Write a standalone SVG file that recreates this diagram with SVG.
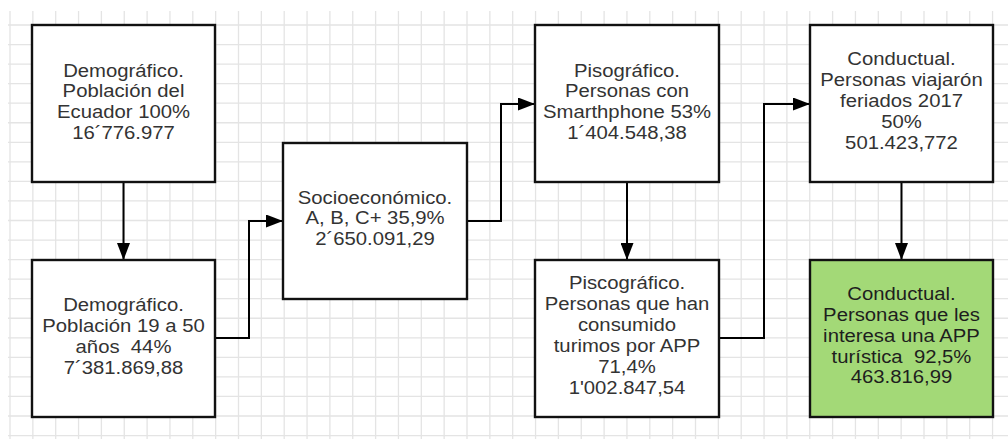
<svg xmlns="http://www.w3.org/2000/svg" width="1008" height="439" viewBox="0 0 1008 439">
  <style>
    .grid { fill: none; stroke: #e4e4e4; stroke-width: 1.3; }
    .box { fill: #ffffff; stroke: #111111; stroke-width: 2.4; }
    .box.green { fill: #a3d977; }
    .lbl { font-family: "Liberation Sans", Arial, sans-serif; font-size: 17.5px; fill: #333333; text-anchor: middle; }
    .lbl.dark { fill: #1e1e1e; }
    .conn { fill: none; stroke: #000000; stroke-width: 2; marker-end: url(#arrow); }
  </style>
  <defs>
    <marker id="arrow" markerUnits="userSpaceOnUse" markerWidth="17" markerHeight="13" viewBox="0 0 17 13" refX="17" refY="6.5" orient="auto">
      <path d="M0 0 L17 6.5 L0 13 Z" fill="#000000"/>
    </marker>
  </defs>

  <rect width="1008" height="439" fill="#ffffff"/>

  <!-- background grid -->
  <path class="grid" d="M10 11V439M32.85 11V439M55.7 11V439M78.55 11V439M101.4 11V439M124.25 11V439M147.1 11V439M169.95 11V439M192.8 11V439M215.65 11V439M238.5 11V439M261.35 11V439M284.2 11V439M307.05 11V439M329.9 11V439M352.75 11V439M375.6 11V439M398.45 11V439M421.3 11V439M444.15 11V439M467 11V439M489.85 11V439M512.7 11V439M535.55 11V439M558.4 11V439M581.25 11V439M604.1 11V439M626.95 11V439M649.8 11V439M672.65 11V439M695.5 11V439M718.35 11V439M741.2 11V439M764.05 11V439M786.9 11V439M809.75 11V439M832.6 11V439M855.45 11V439M878.3 11V439M901.15 11V439M924 11V439M946.85 11V439M969.7 11V439M992.55 11V439"/>
  <path class="grid" d="M8 25H1008M8 44.55H1008M8 64.1H1008M8 83.65H1008M8 103.2H1008M8 122.75H1008M8 142.3H1008M8 161.85H1008M8 181.4H1008M8 200.95H1008M8 220.5H1008M8 240.05H1008M8 259.6H1008M8 279.15H1008M8 298.7H1008M8 318.25H1008M8 337.8H1008M8 357.35H1008M8 376.9H1008M8 396.45H1008M8 416H1008M8 435.55H1008"/>

  <!-- connectors -->
  <g id="connectors">
    <path class="conn" d="M123.5 182V260"/>
    <path class="conn" d="M215 338H249V221H283"/>
    <path class="conn" d="M467 221H501V104H535"/>
    <path class="conn" d="M627 182V260"/>
    <path class="conn" d="M719 338H764V104H810"/>
    <path class="conn" d="M901.5 182V260"/>
  </g>

  <!-- labels: tspans are kept adjacent so no stray spaces shift the centred lines -->
  <g id="demografico-ecuador">
    <rect class="box" x="32" y="25" width="183" height="157"/>
    <text class="lbl" transform="translate(123.5 0) scale(1.16 1)"><tspan x="0" y="77">Demográfico.</tspan><tspan
      x="0" y="97.5">Población del</tspan><tspan
      x="0" y="118.5">Ecuador 100%</tspan><tspan
      x="0" y="139.5">16´776.977</tspan></text>
  </g>

  <g id="demografico-19-50">
    <rect class="box" x="32" y="260" width="183" height="157"/>
    <text class="lbl" transform="translate(123.5 0) scale(1.16 1)"><tspan x="0" y="311">Demográfico.</tspan><tspan
      x="0" y="332">Población 19 a 50</tspan><tspan
      x="0" y="353">años&#160; 44%</tspan><tspan
      x="0" y="374">7´381.869,88</tspan></text>
  </g>

  <g id="socioeconomico">
    <rect class="box" x="283" y="143" width="184" height="156"/>
    <text class="lbl" transform="translate(375 0) scale(1.16 1)"><tspan x="0" y="204">Socioeconómico.</tspan><tspan
      x="0" y="224.5">A, B, C+ 35,9%</tspan><tspan
      x="0" y="245.5">2´650.091,29</tspan></text>
  </g>

  <g id="pisografico">
    <rect class="box" x="535" y="25" width="184" height="157"/>
    <text class="lbl" transform="translate(627 0) scale(1.16 1)"><tspan x="0" y="77">Pisográfico.</tspan><tspan
      x="0" y="97.5">Personas con</tspan><tspan
      x="0" y="118.5">Smarthphone 53%</tspan><tspan
      x="0" y="139.5">1´404.548,38</tspan></text>
  </g>

  <g id="piscografico">
    <rect class="box" x="535" y="260" width="184" height="157"/>
    <text class="lbl" transform="translate(627 0) scale(1.16 1)"><tspan x="0" y="289.5">Piscográfico.</tspan><tspan
      x="0" y="310.5">Personas que han</tspan><tspan
      x="0" y="331.5">consumido</tspan><tspan
      x="0" y="352.5">turimos por APP</tspan><tspan
      x="0" y="373.5">71,4%</tspan><tspan
      x="0" y="394.5">1'002.847,54</tspan></text>
  </g>

  <g id="conductual-feriados">
    <rect class="box" x="810" y="25" width="183" height="157"/>
    <text class="lbl" transform="translate(901.5 0) scale(1.16 1)"><tspan x="0" y="65">Conductual.</tspan><tspan
      x="0" y="86">Personas viajarón</tspan><tspan
      x="0" y="107">feriados 2017</tspan><tspan
      x="0" y="128">50%</tspan><tspan
      x="0" y="149">501.423,772</tspan></text>
  </g>

  <g id="conductual-app">
    <rect class="box green" x="810" y="260" width="183" height="157"/>
    <text class="lbl dark" transform="translate(901.5 0) scale(1.16 1)"><tspan x="0" y="300">Conductual.</tspan><tspan
      x="0" y="321">Personas que les</tspan><tspan
      x="0" y="342">interesa una APP</tspan><tspan
      x="0" y="363">turística&#160; 92,5%</tspan><tspan
      x="0" y="383.5">463.816,99</tspan></text>
  </g>
</svg>
